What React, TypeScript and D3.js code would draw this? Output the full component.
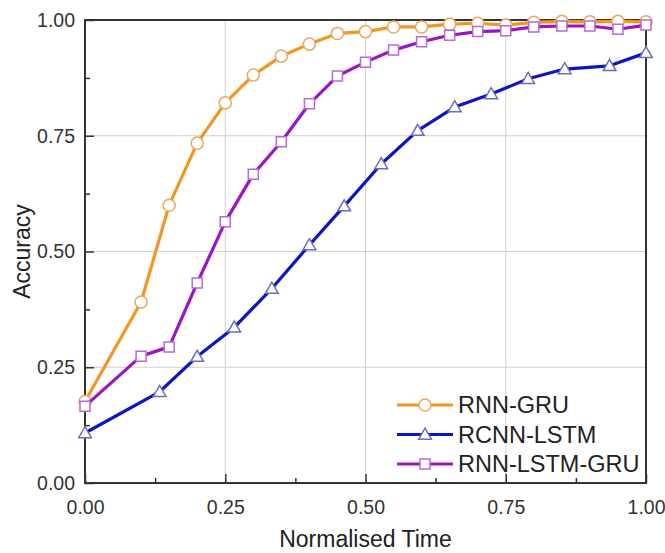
import { useRef, useEffect } from "react";
import * as d3 from "d3";

// RNN-GRU
const gruX = [0, 0.1, 0.15, 0.2, 0.25, 0.3, 0.35, 0.4, 0.45, 0.5, 0.55, 0.6, 0.65, 0.7, 0.75, 0.8, 0.85, 0.9, 0.95, 1.0];
const gruY = [0.176, 0.391, 0.6, 0.734, 0.821, 0.881, 0.922, 0.948, 0.971, 0.975, 0.985, 0.985, 0.991, 0.993, 0.989, 0.995, 0.997, 0.996, 0.997, 0.996];

// RCNN-LSTM
const lstmX = [0, 0.133, 0.2, 0.266, 0.333, 0.4, 0.462, 0.528, 0.593, 0.659, 0.724, 0.79, 0.855, 0.935, 1.0];
const lstmY = [0.108, 0.197, 0.273, 0.336, 0.42, 0.514, 0.598, 0.689, 0.761, 0.812, 0.84, 0.873, 0.894, 0.901, 0.929];

// RNN-LSTM-GRU
const hybX = [0, 0.1, 0.15, 0.2, 0.25, 0.3, 0.35, 0.4, 0.45, 0.5, 0.55, 0.6, 0.65, 0.7, 0.75, 0.8, 0.85, 0.9, 0.95, 1.0];
const hybY = [0.166, 0.274, 0.294, 0.432, 0.564, 0.667, 0.737, 0.819, 0.879, 0.909, 0.935, 0.953, 0.967, 0.975, 0.977, 0.985, 0.987, 0.987, 0.98, 0.989];

const majorTicks = [0, 0.25, 0.5, 0.75, 1];
const minorTicks = [0.125, 0.375, 0.625, 0.875];

const App = () => {
  const svgRef = useRef<SVGSVGElement>(null);

  useEffect(() => {
    const svg = d3.select(svgRef.current);
    svg.selectAll("*").remove();

    const left = 85;
    const right = 646;
    const top = 20;
    const bottom = 483;
    const font = "'Liberation Sans', Arial, sans-serif";

    const x = d3.scaleLinear().domain([0, 1]).range([left, right]);
    const y = d3.scaleLinear().domain([0, 1]).range([bottom, top]);

    // grid
    const grid = svg.append("g").attr("stroke", "#cfcfcf").attr("stroke-width", 1);
    majorTicks.slice(1, -1).forEach((t) => {
      grid.append("line").attr("x1", x(t)).attr("x2", x(t)).attr("y1", top).attr("y2", bottom);
      grid.append("line").attr("x1", left).attr("x2", right).attr("y1", y(t)).attr("y2", y(t));
    });

    // axes with inward ticks
    svg
      .append("g")
      .attr("transform", `translate(0,${bottom})`)
      .call(d3.axisBottom(x).tickValues(majorTicks).tickSize(-9).tickPadding(17).tickFormat(d3.format(".2f")))
      .select(".domain")
      .remove();
    svg
      .append("g")
      .attr("transform", `translate(0,${bottom})`)
      .call(d3.axisBottom(x).tickValues(minorTicks).tickSize(-5).tickFormat(() => ""))
      .select(".domain")
      .remove();

    svg
      .append("g")
      .attr("transform", `translate(${left},0)`)
      .call(d3.axisLeft(y).tickValues(majorTicks).tickSize(-9).tickPadding(10).tickFormat(d3.format(".2f")))
      .select(".domain")
      .remove();
    svg
      .append("g")
      .attr("transform", `translate(${left},0)`)
      .call(d3.axisLeft(y).tickValues(minorTicks).tickSize(-5).tickFormat(() => ""))
      .select(".domain")
      .remove();

    svg.selectAll(".tick line").attr("stroke", "#333").attr("stroke-width", 1.5);
    svg
      .selectAll(".tick text")
      .attr("fill", "#333")
      .style("font-family", font)
      .style("font-size", "19.5px");

    // frame
    svg
      .append("rect")
      .attr("x", left)
      .attr("y", top)
      .attr("width", right - left)
      .attr("height", bottom - top)
      .attr("fill", "none")
      .attr("stroke", "#333")
      .attr("stroke-width", 2);

    const series = [
      { name: "RNN-GRU", xs: gruX, ys: gruY, line: "#f39621", mark: "#e8a860", shape: "circle" },
      { name: "RCNN-LSTM", xs: lstmX, ys: lstmY, line: "#0c14c8", mark: "#6a6cc2", shape: "triangle" },
      { name: "RNN-LSTM-GRU", xs: hybX, ys: hybY, line: "#9a16c4", mark: "#b66ad4", shape: "square" },
    ];

    const symbolOf = (shape: string) =>
      shape === "circle"
        ? d3.symbol(d3.symbolCircle, 115)
        : shape === "triangle"
        ? d3.symbol(d3.symbolTriangle, 70)
        : d3.symbol(d3.symbolSquare, 100);

    const line = d3.line<[number, number]>().x((d) => x(d[0])).y((d) => y(d[1]));

    const plot = svg.append("g");
    series.forEach((s) => {
      const pts: [number, number][] = s.xs.map((v, i) => [v, s.ys[i]]);
      plot
        .append("path")
        .attr("d", line(pts))
        .attr("fill", "none")
        .attr("stroke", s.line)
        .attr("stroke-width", 3.2)
        .attr("stroke-linejoin", "round");
      plot
        .selectAll(null)
        .data(pts)
        .enter()
        .append("path")
        .attr("d", symbolOf(s.shape)())
        .attr("transform", (d) => `translate(${x(d[0])},${y(d[1]) + (s.shape === "triangle" ? 1 : 0)})`)
        .attr("fill", "white")
        .attr("stroke", s.mark)
        .attr("stroke-width", 1.5);
    });

    // legend
    const legend = svg.append("g");
    series.forEach((s, i) => {
      const ly = 405 + i * 29.5;
      legend
        .append("line")
        .attr("x1", 397)
        .attr("x2", 453)
        .attr("y1", ly)
        .attr("y2", ly)
        .attr("stroke", s.line)
        .attr("stroke-width", 3.2);
      legend
        .append("path")
        .attr("d", symbolOf(s.shape)())
        .attr("transform", `translate(425,${ly + (s.shape === "triangle" ? 1 : 0)})`)
        .attr("fill", "white")
        .attr("stroke", s.mark)
        .attr("stroke-width", 1.5);
      legend
        .append("text")
        .attr("x", 458)
        .attr("y", ly + 8)
        .attr("fill", "#222")
        .style("font-family", font)
        .style("font-size", "23.5px")
        .text(s.name);
    });

    // axis titles
    svg
      .append("text")
      .attr("x", (left + right) / 2)
      .attr("y", 547)
      .attr("text-anchor", "middle")
      .attr("fill", "#222")
      .style("font-family", font)
      .style("font-size", "23px")
      .text("Normalised Time");
    svg
      .append("text")
      .attr("transform", `translate(30,${(top + bottom) / 2}) rotate(-90)`)
      .attr("text-anchor", "middle")
      .attr("fill", "#222")
      .style("font-family", font)
      .style("font-size", "23px")
      .text("Accuracy");
  }, []);

  return (
    <svg
      ref={svgRef}
      width={665}
      height={553}
      style={{ position: "absolute", left: 0, top: 0, background: "white" }}
    />
  );
};

export default App;
